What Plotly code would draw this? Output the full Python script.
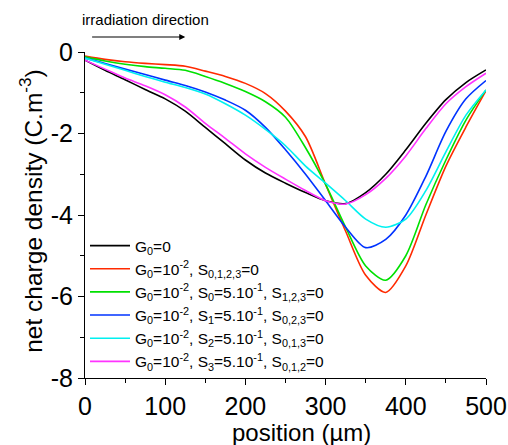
import plotly.graph_objects as go

position = [0, 25, 50, 75, 100, 125, 150, 175, 200, 225, 250, 275, 300, 325, 350, 375, 400, 425, 450, 475, 500]

g0_zero = [-0.2, -0.45, -0.68, -0.92, -1.15, -1.45, -1.85, -2.25, -2.65, -2.97, -3.22, -3.45, -3.65, -3.72, -3.45, -3.0, -2.4, -1.75, -1.17, -0.75, -0.44]
s_all_zero = [-0.1, -0.18, -0.24, -0.28, -0.31, -0.35, -0.47, -0.6, -0.77, -1.02, -1.45, -2.08, -3.25, -4.4, -5.48, -5.9, -5.25, -4.0, -2.8, -1.84, -0.95]
s0_only = [-0.12, -0.22, -0.3, -0.36, -0.4, -0.45, -0.6, -0.77, -0.97, -1.22, -1.6, -2.35, -3.25, -4.3, -5.25, -5.6, -5.0, -3.75, -2.65, -1.67, -0.93]
s1_only = [-0.15, -0.28, -0.42, -0.55, -0.69, -0.82, -0.98, -1.18, -1.43, -1.85, -2.4, -3.0, -3.65, -4.3, -4.8, -4.6, -4.0, -3.05, -1.95, -1.15, -0.7]
s2_only = [-0.15, -0.3, -0.45, -0.6, -0.74, -0.87, -1.03, -1.27, -1.55, -1.9, -2.3, -2.8, -3.22, -3.65, -4.1, -4.3, -4.1, -3.4, -2.45, -1.55, -0.93]
s3_only = [-0.2, -0.42, -0.64, -0.83, -1.05, -1.35, -1.75, -2.12, -2.5, -2.83, -3.12, -3.4, -3.65, -3.73, -3.5, -3.1, -2.55, -1.88, -1.27, -0.85, -0.52]

series_names = [
    "G<sub>0</sub>=0",
    "G<sub>0</sub>=10<sup>-2</sup>, S<sub>0,1,2,3</sub>=0",
    "G<sub>0</sub>=10<sup>-2</sup>, S<sub>0</sub>=5.10<sup>-1</sup>, S<sub>1,2,3</sub>=0",
    "G<sub>0</sub>=10<sup>-2</sup>, S<sub>1</sub>=5.10<sup>-1</sup>, S<sub>0,2,3</sub>=0",
    "G<sub>0</sub>=10<sup>-2</sup>, S<sub>2</sub>=5.10<sup>-1</sup>, S<sub>0,1,3</sub>=0",
    "G<sub>0</sub>=10<sup>-2</sup>, S<sub>3</sub>=5.10<sup>-1</sup>, S<sub>0,1,2</sub>=0",
]
series_values = [g0_zero, s_all_zero, s0_only, s1_only, s2_only, s3_only]
series_colors = ["#000000", "#ff2a00", "#00e000", "#0033ff", "#00f0f0", "#ff33ff"]

x_tick_vals = [0, 100, 200, 300, 400, 500]
x_tick_text = ["0", "100", "200", "300", "400", "500"]
y_tick_vals = [0, -2, -4, -6, -8]
y_tick_text = ["0", "-2", "-4", "-6", "-8"]

FONT = "Liberation Sans, Arial, sans-serif"

fig = go.Figure()
for name, vals, col in zip(series_names, series_values, series_colors):
    fig.add_trace(go.Scatter(x=position, y=vals, name=name, mode="lines",
                             line=dict(color=col, width=1.6, shape="spline", smoothing=0.8)))

fig.update_layout(
    width=508, height=445,
    margin=dict(l=85, r=22, t=52, b=67, autoexpand=False),
    paper_bgcolor="white", plot_bgcolor="white",
    font=dict(family=FONT, color="black"),
    showlegend=True,
    legend=dict(x=0.0, y=0.0, xanchor="left", yanchor="bottom",
                bgcolor="rgba(0,0,0,0)", font=dict(size=15.5, family=FONT),
                tracegroupgap=0, itemwidth=40),
    xaxis=dict(range=[0, 500], showline=True, linecolor="black", linewidth=1.2,
               automargin=False,
               ticks="outside", ticklen=6, tickwidth=1.2, tickcolor="black",
               tickvals=x_tick_vals, ticktext=x_tick_text,
               tickfont=dict(size=25, family=FONT),
               minor=dict(ticks="outside", ticklen=4, tickwidth=1.2, tickcolor="black", dtick=50, tick0=0, showgrid=False),
               showgrid=False, zeroline=False),
    yaxis=dict(range=[-8, 0], showline=True, linecolor="black", linewidth=1.2,
               automargin=False,
               ticks="outside", ticklen=6, tickwidth=1.2, tickcolor="black",
               tickvals=y_tick_vals, ticktext=y_tick_text,
               tickfont=dict(size=25, family=FONT),
               minor=dict(ticks="outside", ticklen=4, tickwidth=1.2, tickcolor="black", dtick=1, tick0=0, showgrid=False),
               showgrid=False, zeroline=False),
)

fig.add_annotation(x=0, y=0.513, xref="paper", yref="paper", xshift=-54,
                   text="net charge density (C.m<sup>-3</sup>)", showarrow=False, textangle=-90,
                   xanchor="center", yanchor="middle", font=dict(size=24.5, family=FONT))
fig.add_annotation(x=0.539, y=0, xref="paper", yref="paper", yshift=-54,
                   text="position (µm)", showarrow=False,
                   xanchor="center", yanchor="middle", font=dict(size=24, family=FONT))
fig.add_annotation(x=0, y=1, xref="x", yref="paper", yshift=33, xshift=-5,
                   text="irradiation direction", showarrow=False,
                   xanchor="left", yanchor="middle", font=dict(size=15, family=FONT))
fig.add_annotation(x=125, y=1, xref="x", yref="paper", yshift=15,
                   ax=7, ay=0, axref="x", ayref="pixel",
                   text="", showarrow=True, arrowhead=2, arrowsize=1, arrowwidth=1.2, arrowcolor="black")

fig.write_html("out.html")
